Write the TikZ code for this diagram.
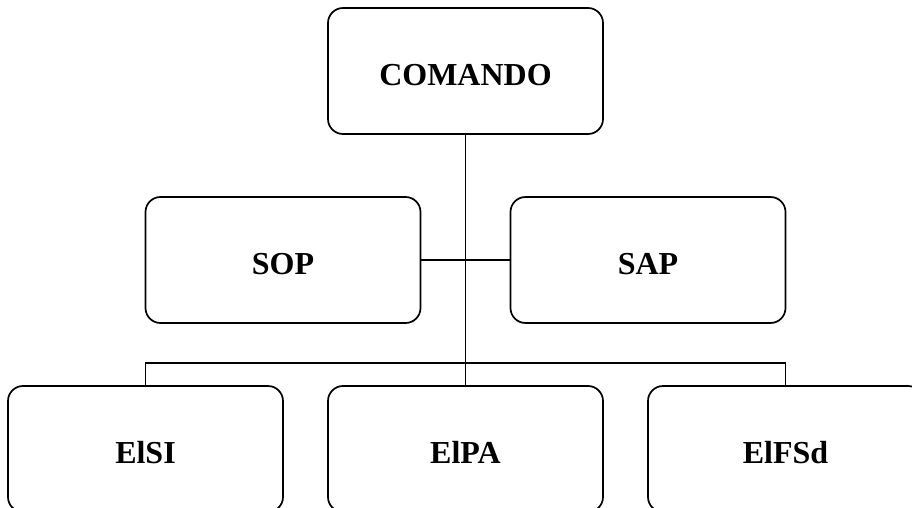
\documentclass[tikz,border=0pt]{standalone}
\usepackage{fontspec}
\setmainfont{Liberation Serif}
\usepackage{tikz}

\begin{document}
\begin{tikzpicture}[node distance={320pt}, main/.style = {draw, rounded corners=15pt, line width=1.7pt, minimum width=275pt, minimum height=126pt, inner sep=2pt, text height=29pt, text depth=0pt, font=\bfseries\fontsize{32}{36}\selectfont}, line width=1.7pt]
\useasboundingbox (-465.5pt,71pt) rectangle (446.5pt,-437pt);
\node[main] (1) {COMANDO};
\node[main] (2) at (-182.5pt,-189pt) {SOP};
\node[main] (3) at (182.5pt,-189pt) {SAP};
\node[main] (5) [below of=1,yshift=-58pt] {ElPA};
\node[main] (4) [left of=5] {ElSI};
\node[main] (6) [right of=5] {ElFSd};
\coordinate (j) at ([yshift=22pt]5.north);
\draw (1) -- (5);
\draw (2) -- (3);
\draw (4) |- (j) -| (6);
\end{tikzpicture}
\end{document}
